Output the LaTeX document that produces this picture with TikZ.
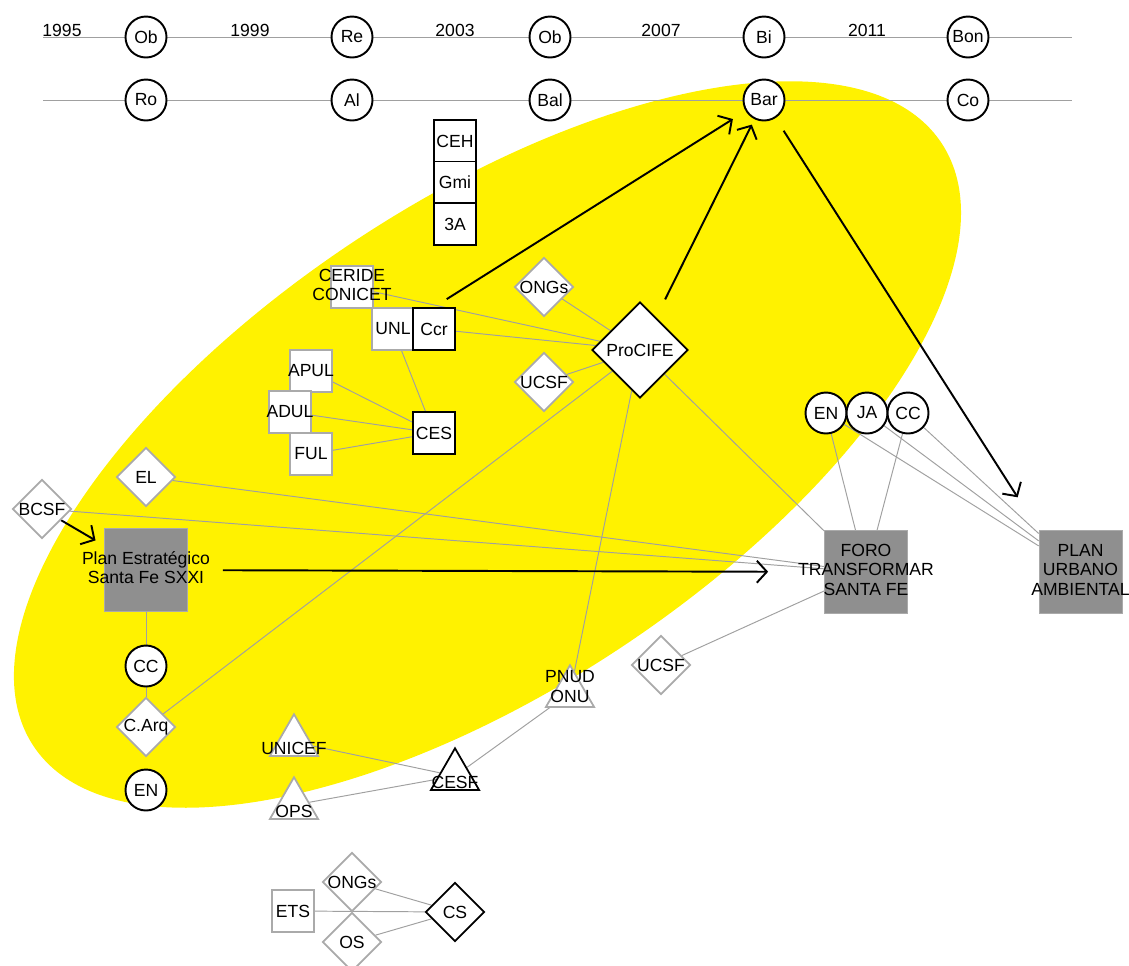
\documentclass[tikz,border=0pt]{standalone}
\usepackage{fontspec}
\setmainfont{Liberation Sans}
\usetikzlibrary{shapes.geometric,arrows.meta}
\definecolor{edgegray}{RGB}{160,160,160}
\definecolor{bordergray}{RGB}{170,170,170}
\definecolor{boxgray}{RGB}{143,143,143}
\pgfdeclarelayer{background}
\pgfsetlayers{background,main}
\newcommand{\ov}[1]{\makebox[0pt]{#1}}
\newcommand{\trilab}[2][-0.25cm]{\raisebox{#1}[0pt][0pt]{\makebox[0pt]{#2}}}
\newcommand{\lines}[1]{\begin{tabular}{@{}c@{}}#1\end{tabular}}
\renewcommand{\arraystretch}{0.94}

\begin{document}
\begin{tikzpicture}[
	actor/.style={circle, draw, line width=1.1pt, fill=white, minimum size=0.82cm, inner sep=0pt},
	boxb/.style={rectangle, draw, line width=1pt, fill=white, minimum size=0.84cm, inner sep=0pt},
	boxg/.style={boxb, draw=bordergray},
	diag/.style={diamond, draw=bordergray, line width=1pt, fill=white, minimum size=1.18cm, inner sep=0pt},
	diab/.style={diag, draw=black},
	trig/.style={regular polygon, regular polygon sides=3, draw=bordergray, line width=1pt, fill=white, minimum size=1.11cm, inner sep=0pt},
	trib/.style={trig, draw=black},
	plan/.style={rectangle, draw=bordergray, fill=boxgray, minimum size=1.66cm, inner sep=0pt},
	year/.style={anchor=base, inner sep=0pt},
	tie/.style={draw=edgegray, line width=0.55pt},
	flow/.style={draw=black, line width=1.1pt, -{Straight Barb[length=2mm,width=4.4mm]}},
	]
		
		\useasboundingbox (0,0) rectangle (22.58,-19.3);
		
		\coordinate (r1s) at (0.86,-0.74);
		\coordinate (r1e) at (21.44,-0.74);
		\coordinate (r2s) at (0.86,-2.0);
		\coordinate (r2e) at (21.44,-2.0);
		\coordinate (ellc) at (9.75,-8.89);
		
		\node[year] (y95) at (1.24,-0.72) {1995};
		\node[year] (y99) at (5.0,-0.72) {1999};
		\node[year] (y03) at (9.1,-0.72) {2003};
		\node[year] (y07) at (13.22,-0.72) {2007};
		\node[year] (y11) at (17.34,-0.72) {2011};
		
		\node[actor] (ob1) at (2.92,-0.74) {Ob};
		\node[actor] (re) at (7.04,-0.74) {Re};
		\node[actor] (ob2) at (11.0,-0.74) {Ob};
		\node[actor] (bi) at (15.28,-0.74) {Bi};
		\node[actor] (bon) at (19.36,-0.74) {Bon};
		\node[actor] (ro) at (2.92,-2.0) {Ro};
		\node[actor] (al) at (7.04,-2.0) {Al};
		\node[actor] (bal) at (11.0,-2.0) {Bal};
		\node[actor] (bar) at (15.28,-2.0) {Bar};
		\node[actor] (co) at (19.36,-2.0) {Co};
		
		\node[boxb] (ceh) at (9.1,-2.82) {CEH};
		\node[boxb] (gmi) at (9.1,-3.65) {Gmi};
		\node[boxb] (tria) at (9.1,-4.48) {3A};
		
		\node[boxg] (cer) at (7.04,-5.74) {\ov{\lines{CERIDE\\CONICET}}};
		\node[boxg] (unl) at (7.86,-6.58) {UNL};
		\node[boxb] (ccr) at (8.68,-6.58) {Ccr};
		\node[boxg] (apul) at (6.22,-7.42) {\ov{APUL}};
		\node[boxg] (adul) at (5.8,-8.24) {\ov{ADUL}};
		\node[boxg] (ful) at (6.22,-9.08) {FUL};
		\node[boxb] (ces) at (8.68,-8.66) {CES};
		\node[diag] (ong) at (10.88,-5.74) {\ov{ONGs}};
		\node[diag] (ucsf) at (10.88,-7.64) {\ov{UCSF}};
		\node[diab, minimum size=1.92cm] (pro) at (12.8,-7.0) {\ov{ProCIFE}};
		
		\node[diag] (el) at (2.92,-9.54) {EL};
		\node[diag] (bcsf) at (0.84,-10.18) {\ov{BCSF}};
		\node[plan] (plan) at (2.92,-11.4) {\ov{\lines{Plan Estratégico\\Santa Fe SXXI}}};
		\node[actor] (ccl) at (2.92,-13.32) {CC};
		\node[diag] (carq) at (2.92,-14.54) {\ov{C.Arq}};
		\node[actor] (enl) at (2.92,-15.8) {EN};
		
		\node[actor] (enr) at (16.52,-8.26) {EN};
		\node[actor] (ja) at (17.34,-8.26) {JA};
		\node[actor] (ccrt) at (18.16,-8.26) {CC};
		\node[plan] (foro) at (17.32,-11.44) {\ov{\lines{FORO\\TRANSFORMAR\\SANTA FE}}};
		\node[plan] (pua) at (21.61,-11.44) {\ov{\lines{PLAN\\URBANO\\AMBIENTAL}}};
		\node[diag] (ucsfb) at (13.22,-13.3) {\ov{UCSF}};
		
		\node[trig] (pnud) at (11.4,-13.86) {\trilab[0pt]{\lines{PNUD\\ONU}}};
		\node[trib] (cesf) at (9.1,-15.52) {\trilab{CESF}};
		\node[trig] (unicef) at (5.88,-14.84) {\trilab{UNICEF}};
		\node[trig] (ops) at (5.88,-16.1) {\trilab{OPS}};
		
		\node[diag] (ongb) at (7.04,-17.64) {\ov{ONGs}};
		\node[diag] (os) at (7.04,-18.84) {OS};
		\node[boxg] (ets) at (5.86,-18.22) {ETS};
		\node[diab] (cs) at (9.1,-18.24) {CS};
		
		\begin{pgfonlayer}{background}
			\fill[yellow, rotate around={33.6:(ellc)}] (ellc) ellipse (10.9 and 4.86);
			
			\draw[tie] (r1s) -- (r1e);
			\draw[tie] (r2s) -- (r2e);
			
			\draw[tie] (cer) -- (pro);
			\draw[tie] (ccr) -- (pro);
			\draw[tie] (ong) -- (pro);
			\draw[tie] (ucsf) -- (pro);
			\draw[tie] (unl) -- (ces);
			\draw[tie] (apul) -- (ces);
			\draw[tie] (adul) -- (ces);
			\draw[tie] (ful) -- (ces);
			\draw[tie] (pro) -- (carq);
			\draw[tie] (pro) -- (pnud);
			\draw[tie] (pro) -- (foro);
			\draw[tie] (el) -- (foro);
			\draw[tie] (bcsf) -- (foro);
			\draw[tie] (plan) -- (ccl);
			\draw[tie] (ccl) -- (carq);
			\draw[tie] (pnud) -- (cesf);
			\draw[tie] (unicef) -- (cesf);
			\draw[tie] (ops) -- (cesf);
			\draw[tie] (ucsfb) -- (foro);
			\draw[tie] (enr) -- (foro);
			\draw[tie] (ccrt) -- (foro);
			\draw[tie] (enr) -- (pua);
			\draw[tie] (ja) -- (pua);
			\draw[tie] (ccrt) -- (pua);
			\draw[tie] (ets) -- (cs);
			\draw[tie] (ongb) -- (cs);
			\draw[tie] (os) -- (cs);
			
			\draw[flow, shorten >=0.2cm] (bcsf) -- (plan);
			\draw[flow, shorten <=0.7cm, shorten >=1.12cm] (plan) -- (foro);
			\draw[flow, shorten <=0.3cm, shorten >=0.3cm] (ccr.north) -- (bar.211);
			\draw[flow, shorten <=0.4cm, shorten >=0.12cm] (pro) -- (bar);
			\draw[flow, shorten <=0.3cm, shorten >=0.78cm] (bar) -- (pua.north west);
		\end{pgfonlayer}
		
	\end{tikzpicture}
\end{document}
